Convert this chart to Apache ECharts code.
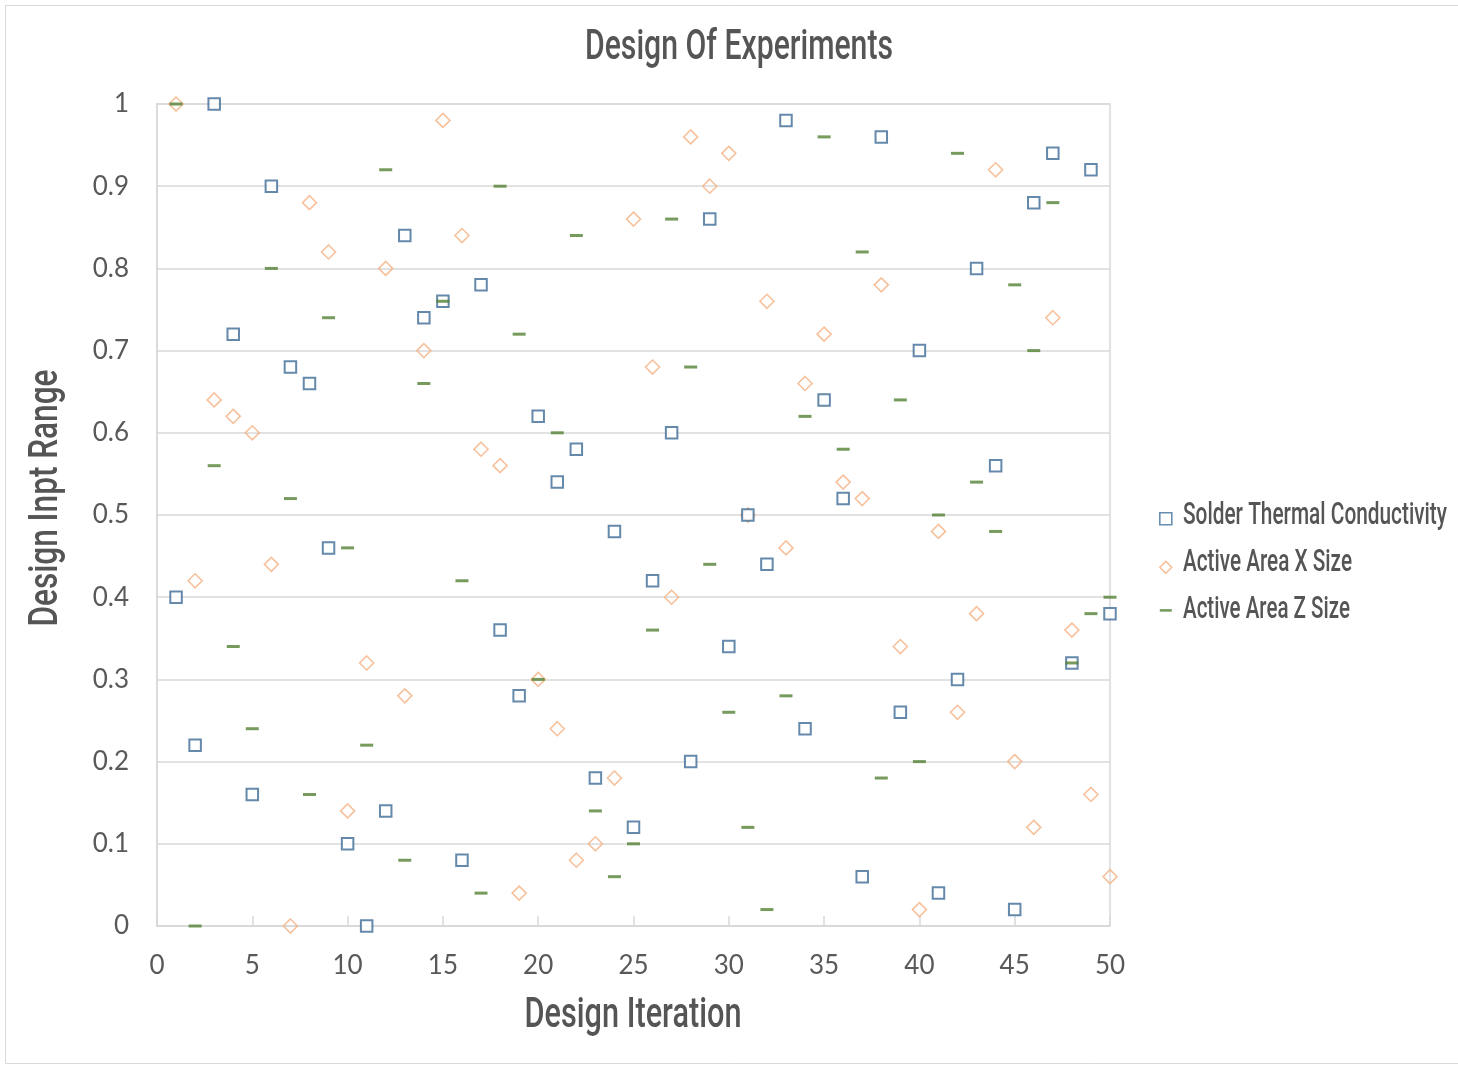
<!DOCTYPE html>
<html>
<head>
<meta charset="utf-8">
<script src="https://cdn.jsdelivr.net/npm/echarts@6/dist/echarts.min.js"></script>
<style>
  html, body { margin: 0; padding: 0; background: #fff; }
  #chart { width: 1458px; height: 1065px; }
</style>
</head>
<body>
<div id="chart"></div>
<script>
// Design iteration numbers (x) and the normalised input levels for each factor
const iterations = Array.from({ length: 50 }, (_, i) => i + 1);

const solderThermalConductivity = [
  0.40, 0.22, 1.00, 0.72, 0.16, 0.90, 0.68, 0.66, 0.46, 0.10,
  0.00, 0.14, 0.84, 0.74, 0.76, 0.08, 0.78, 0.36, 0.28, 0.62,
  0.54, 0.58, 0.18, 0.48, 0.12, 0.42, 0.60, 0.20, 0.86, 0.34,
  0.50, 0.44, 0.98, 0.24, 0.64, 0.52, 0.06, 0.96, 0.26, 0.70,
  0.04, 0.30, 0.80, 0.56, 0.02, 0.88, 0.94, 0.32, 0.92, 0.38
];

const activeAreaXSize = [
  1.00, 0.42, 0.64, 0.62, 0.60, 0.44, 0.00, 0.88, 0.82, 0.14,
  0.32, 0.80, 0.28, 0.70, 0.98, 0.84, 0.58, 0.56, 0.04, 0.30,
  0.24, 0.08, 0.10, 0.18, 0.86, 0.68, 0.40, 0.96, 0.90, 0.94,
  0.50, 0.76, 0.46, 0.66, 0.72, 0.54, 0.52, 0.78, 0.34, 0.02,
  0.48, 0.26, 0.38, 0.92, 0.20, 0.12, 0.74, 0.36, 0.16, 0.06
];

const activeAreaZSize = [
  1.00, 0.00, 0.56, 0.34, 0.24, 0.80, 0.52, 0.16, 0.74, 0.46,
  0.22, 0.92, 0.08, 0.66, 0.76, 0.42, 0.04, 0.90, 0.72, 0.30,
  0.60, 0.84, 0.14, 0.06, 0.10, 0.36, 0.86, 0.68, 0.44, 0.26,
  0.12, 0.02, 0.28, 0.62, 0.96, 0.58, 0.82, 0.18, 0.64, 0.20,
  0.50, 0.94, 0.54, 0.48, 0.78, 0.70, 0.88, 0.32, 0.38, 0.40
];

const seriesNames = ['Solder Thermal Conductivity', 'Active Area X Size', 'Active Area Z Size'];
const chartTitle = 'Design Of Experiments';
const xAxisTitle = 'Design Iteration';
const yAxisTitle = 'Design Inpt Range';

const pairs = (ys) => iterations.map((x, i) => [x, ys[i]]);

const TEXT_COLOR = '#595959';
const GRID_COLOR = '#d9d9d9';
const headFont = 'Roboto';
const labelFont = 'Lato, "Open Sans", sans-serif';

// Headings use a tall, narrow face: draw Roboto squeezed horizontally to the wanted run length.
const measureCtx = document.createElement('canvas').getContext('2d');
function condensedText(text, size, width, x, y, opts = {}) {
  measureCtx.font = `500 ${size}px ${headFont}`;
  const natural = measureCtx.measureText(text).width;
  return {
    type: 'text',
    x, y,
    rotation: opts.rotation || 0,
    scaleX: width / natural,
    silent: true,
    style: {
      text,
      fontFamily: headFont,
      fontWeight: 500,
      fontSize: size,
      fill: '#555555',
      align: opts.align || 'center',
      verticalAlign: 'middle'
    }
  };
}

const chart = echarts.init(document.getElementById('chart'), null, { renderer: 'canvas' });

chart.setOption({
  backgroundColor: '#ffffff',
  animation: false,
  graphic: [
    {
      type: 'rect',
      shape: { x: 5.5, y: 5.5, width: 1460, height: 1058 },
      style: { fill: 'none', stroke: GRID_COLOR, lineWidth: 1 },
      silent: true
    },
    condensedText(chartTitle, 42, 308, 739, 48),
    condensedText(xAxisTitle, 42, 217, 633, 1016),
    condensedText(yAxisTitle, 40, 257, 47, 498, { rotation: Math.PI / 2 }),
    condensedText(seriesNames[0], 31, 264, 1183, 516, { align: 'left' }),
    condensedText(seriesNames[1], 31, 169, 1183, 563, { align: 'left' }),
    condensedText(seriesNames[2], 31, 167, 1183, 610, { align: 'left' })
  ],
  legend: {
    orient: 'vertical',
    left: 1154, top: 507,
    itemGap: 35,
    itemWidth: 12, itemHeight: 12,
    symbolKeepAspect: true,
    formatter: () => '',
    textStyle: { fontSize: 12, lineHeight: 12 },
    data: [
      { name: seriesNames[0], icon: 'rect', itemStyle: { color: '#fff', borderColor: '#41719c', borderWidth: 1.6 } },
      { name: seriesNames[1], icon: 'diamond', itemStyle: { color: '#fff', borderColor: '#f4b183', borderWidth: 1.5 } },
      { name: seriesNames[2], icon: 'path://M0,0 L14,0 L14,3 L0,3 Z', itemStyle: { color: '#548235' } }
    ]
  },
  grid: { left: 157, right: 348, top: 104, bottom: 139, show: true, borderColor: GRID_COLOR, borderWidth: 1.5 },
  xAxis: {
    type: 'value', min: 0, max: 50, interval: 5,
    axisLine: { show: true, lineStyle: { color: GRID_COLOR, width: 1.5 } },
    axisTick: { show: true, inside: true, length: 10, lineStyle: { color: GRID_COLOR, width: 1.5 } },
    axisLabel: { fontFamily: labelFont, fontSize: 26, color: TEXT_COLOR, margin: 27 },
    splitLine: { show: false }
  },
  yAxis: {
    type: 'value', min: 0, max: 1, interval: 0.1,
    axisLine: { show: true, lineStyle: { color: GRID_COLOR, width: 1.5 } },
    axisTick: { show: false },
    axisLabel: { fontFamily: labelFont, fontSize: 26, color: TEXT_COLOR, margin: 28,
      formatter: (v) => (Math.round(v * 10) / 10).toString() },
    splitLine: { show: true, lineStyle: { color: GRID_COLOR, width: 1.5 } }
  },
  series: [
    {
      name: seriesNames[0], type: 'scatter', data: pairs(solderThermalConductivity),
      symbol: 'rect', symbolSize: 11.5,
      itemStyle: { color: '#ffffff', borderColor: '#3f6b96', borderWidth: 2 },
      z: 3
    },
    {
      name: seriesNames[1], type: 'scatter', data: pairs(activeAreaXSize),
      symbol: 'diamond', symbolSize: 14,
      itemStyle: { color: 'rgba(255,255,255,0)', borderColor: '#f4b183', borderWidth: 1.6 },
      z: 2
    },
    {
      name: seriesNames[2], type: 'scatter', data: pairs(activeAreaZSize),
      symbol: 'rect', symbolSize: [13, 3],
      itemStyle: { color: '#548235' },
      z: 4
    }
  ]
});
</script>
</body>
</html>
